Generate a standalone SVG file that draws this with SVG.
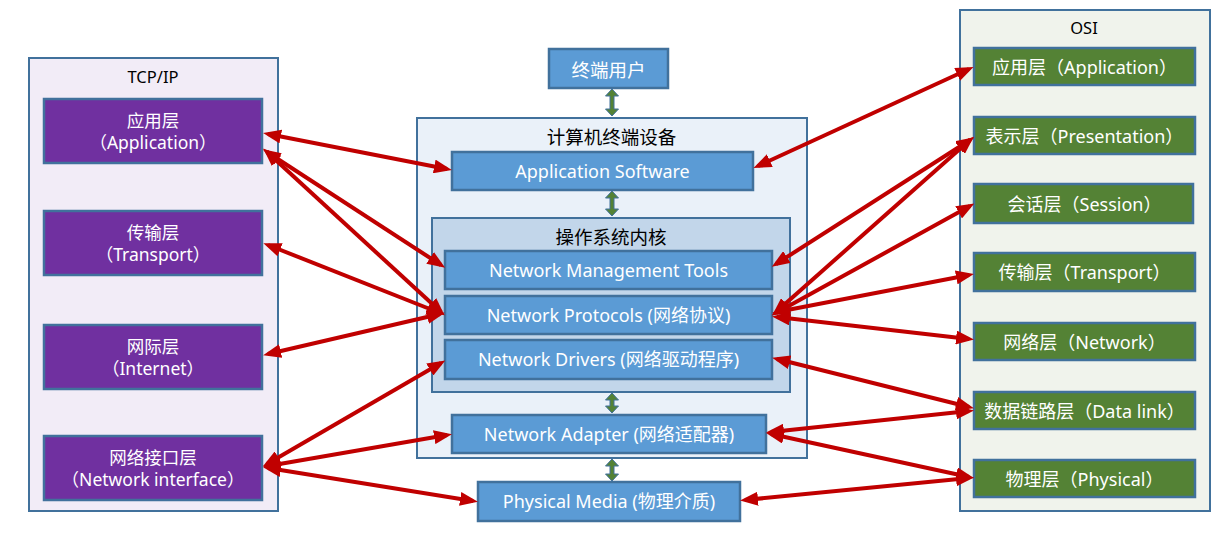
<svg xmlns="http://www.w3.org/2000/svg" width="1224" height="537" viewBox="0 0 1224 537">
<defs>
<marker id="ah" viewBox="0 0 18 14" refX="13" refY="7" markerWidth="18" markerHeight="14" markerUnits="userSpaceOnUse" orient="auto-start-reverse"><path d="M0,0 L18,7 L0,14 z" fill="#C00000"/></marker>
<style>
.frame{stroke:#41719C;stroke-width:2}
.box{stroke:#41719C;stroke-width:2.5}
.p{fill:#7030A0}.b{fill:#5B9BD5}.g{fill:#548235}
text{font-family:"Noto Sans","Noto Sans CJK SC",sans-serif;text-anchor:middle}
.w{fill:#FFFFFF;font-size:18px}
.wl{fill:#FFFFFF;font-size:17.5px}
.t{fill:#000000;font-size:16.5px}
.tc{fill:#000000;font-size:18.5px;font-family:"Noto Sans CJK SC",sans-serif}
.red{stroke:#C00000;stroke-width:4;fill:none;marker-start:url(#ah);marker-end:url(#ah)}
.gv{fill:#548235;stroke:#41719C;stroke-width:1}
</style>
</defs>
<rect width="1224" height="537" fill="#FFFFFF"/>

<g id="tcpip">
<rect class="frame" x="29" y="58" width="249" height="453" fill="#F2ECF7"/>
<text class="t" x="153" y="83">TCP/IP</text>
</g>
<g id="tcp-app"><rect class="box p" x="44" y="99" width="218" height="64"/><text class="wl" x="153" y="127">应用层</text><text class="wl" x="153" y="149">（Application）</text></g>
<g id="tcp-transport"><rect class="box p" x="44" y="211" width="218" height="64"/><text class="wl" x="153" y="239">传输层</text><text class="wl" x="153" y="261">（Transport）</text></g>
<g id="tcp-internet"><rect class="box p" x="44" y="325" width="218" height="64"/><text class="wl" x="153" y="353">网际层</text><text class="wl" x="153" y="375">（Internet）</text></g>
<g id="tcp-netif"><rect class="box p" x="44" y="436" width="218" height="64"/><text class="wl" x="153" y="464">网络接口层</text><text class="wl" x="153" y="486">（Network interface）</text></g>

<g id="end-user"><rect class="box b" x="549" y="49" width="119" height="39"/><text class="w" x="608.5" y="77" style="font-size:18.5px">终端用户</text></g>

<g id="terminal">
<rect class="frame" x="417" y="118" width="390" height="340" fill="#EAF1F9"/>
<text class="tc" x="611.5" y="144">计算机终端设备</text>
</g>
<g id="app-software"><rect class="box b" x="452" y="152" width="301" height="38"/><text class="w" x="602.5" y="178">Application Software</text></g>
<g id="kernel">
<rect class="frame" x="432" y="218" width="358" height="174" fill="#C2D6EA"/>
<text class="tc" x="611" y="244">操作系统内核</text>
</g>
<g id="nmt"><rect class="box b" x="445" y="251" width="327" height="38"/><text class="w" x="608.5" y="277">Network Management Tools</text></g>
<g id="nprot"><rect class="box b" x="445" y="296" width="327" height="38"/><text class="w" x="608.5" y="322">Network Protocols (网络协议)</text></g>
<g id="ndrv"><rect class="box b" x="445" y="340" width="327" height="39"/><text class="w" x="608.5" y="366">Network Drivers (网络驱动程序)</text></g>
<g id="nadapter"><rect class="box b" x="452" y="415" width="314" height="38"/><text class="w" x="609" y="441">Network Adapter (网络适配器)</text></g>
<g id="pmedia"><rect class="box b" x="478" y="482" width="262" height="39"/><text class="w" x="609" y="508">Physical Media (物理介质)</text></g>

<g id="osi">
<rect class="frame" x="960" y="10" width="250" height="501" fill="#F0F3EC"/>
<text class="t" x="1084" y="34">OSI</text>
</g>
<g id="osi-app"><rect class="box g" x="974" y="48" width="221" height="37"/><text class="w" x="1084.5" y="74">应用层（Application）</text></g>
<g id="osi-pres"><rect class="box g" x="974" y="117" width="221" height="37"/><text class="w" x="1084.5" y="143">表示层（Presentation）</text></g>
<g id="osi-sess"><rect class="box g" x="974" y="184" width="219" height="39"/><text class="w" x="1084.5" y="211">会话层（Session）</text></g>
<g id="osi-trans"><rect class="box g" x="974" y="253" width="221" height="38"/><text class="w" x="1084.5" y="279">传输层（Transport）</text></g>
<g id="osi-net"><rect class="box g" x="974" y="323" width="221" height="37"/><text class="w" x="1084.5" y="349">网络层（Network）</text></g>
<g id="osi-dl"><rect class="box g" x="974" y="392" width="221" height="37"/><text class="w" x="1084.5" y="418">数据链路层（Data link）</text></g>
<g id="osi-phys"><rect class="box g" x="974" y="460" width="221" height="37"/><text class="w" x="1084.5" y="486">物理层（Physical）</text></g>

<g id="connectors">
<path class="gv" d="M612,89 L618.5,96 L614,96 L614,109 L618.5,109 L612,116 L605.5,109 L610,109 L610,96 L605.5,96 Z"/>
<path class="gv" d="M612,191 L618.5,198 L614,198 L614,209 L618.5,209 L612,216 L605.5,209 L610,209 L610,198 L605.5,198 Z"/>
<path class="gv" d="M612,393 L618.5,400 L614,400 L614,406 L618.5,406 L612,413 L605.5,406 L610,406 L610,400 L605.5,400 Z"/>
<path class="gv" d="M612,459 L618.5,466 L614,466 L614,474 L618.5,474 L612,481 L605.5,474 L610,474 L610,466 L605.5,466 Z"/>

<line class="red" x1="268" y1="134" x2="447" y2="169"/>
<line class="red" x1="267" y1="152" x2="441" y2="265"/>
<line class="red" x1="267" y1="152" x2="441" y2="312"/>
<line class="red" x1="268" y1="245" x2="440" y2="313"/>
<line class="red" x1="268" y1="354" x2="440" y2="314"/>
<line class="red" x1="267" y1="464" x2="441" y2="363"/>
<line class="red" x1="268" y1="466" x2="447" y2="435"/>
<line class="red" x1="268" y1="468" x2="473" y2="501"/>

<line class="red" x1="758" y1="166" x2="969" y2="69"/>
<line class="red" x1="776" y1="264" x2="970" y2="140"/>
<line class="red" x1="776" y1="312" x2="970" y2="140"/>
<line class="red" x1="776" y1="313" x2="970" y2="206"/>
<line class="red" x1="777" y1="312" x2="969" y2="275"/>
<line class="red" x1="777" y1="317" x2="969" y2="339"/>
<line class="red" x1="777" y1="359" x2="969" y2="407"/>
<line class="red" x1="771" y1="432" x2="969" y2="411"/>
<line class="red" x1="771" y1="434" x2="969" y2="477"/>
<line class="red" x1="745" y1="500" x2="969" y2="478"/>
</g>
</svg>
